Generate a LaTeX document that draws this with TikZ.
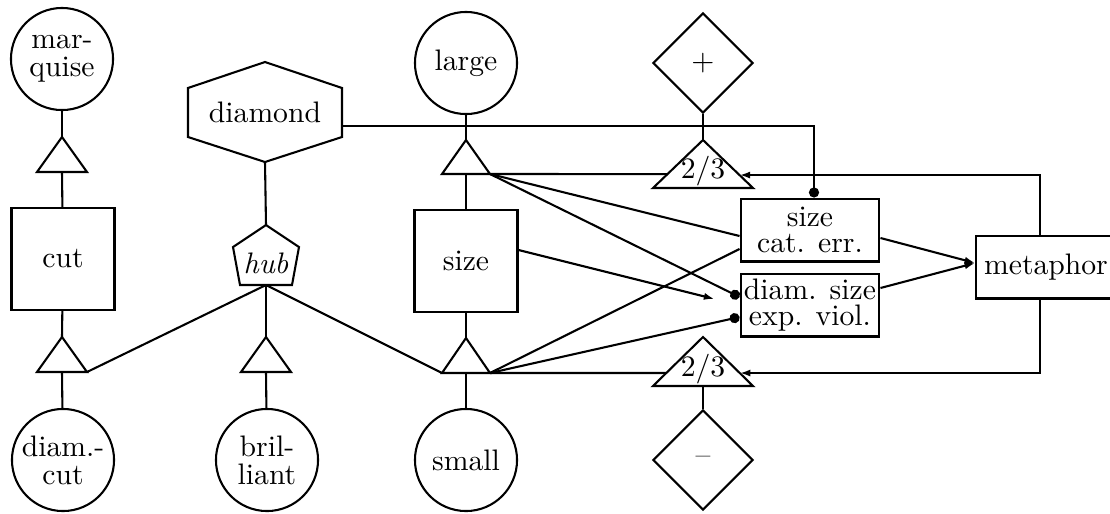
\documentclass[tikz,border=0pt]{standalone}
\usepackage{tikz}
\usetikzlibrary{shapes.geometric,arrows.meta,calc}

\tikzset{
 every node/.style={font=\fontsize{10}{9.5}\selectfont},
 cir/.style={circle,draw,minimum size=34.4pt,inner sep=0pt,align=center},
 box/.style={rectangle,draw,minimum width=34.7pt,minimum height=34.4pt},
 wbox/.style={rectangle,draw,minimum width=46.8pt,minimum height=21.2pt,inner sep=0.5pt,align=center,font=\fontsize{10}{8.6}\selectfont},
 rhomb/.style={diamond,draw,minimum size=33.7pt,inner sep=0pt},
 arr/.style={-{Latex[length=3.6pt,width=2.4pt]}},
 dotend/.style={-{Circle[length=3.4pt]}},
}

\begin{document}
\begin{tikzpicture}[x=0.337pt,y=-0.337pt,line width=0.7pt]
\useasboundingbox (0,0) rectangle (1110,513);
% left column
\node[cir] (mq) at (62,59) {mar-\\quise};
\draw (62,137) coordinate (ta) -- ++(25,35) coordinate (ta-r) -- ++(-25,0) coordinate (ta-b) -- ++(-25,0) coordinate (ta-l) -- cycle;
\node[box] (cut) at (63,259) {cut};
\draw (62,337) coordinate (tb) -- ++(25,35) coordinate (tb-r) -- ++(-25,0) coordinate (tb-b) -- ++(-25,0) coordinate (tb-l) -- cycle;
\node[cir] (dcut) at (63,460) {diam.-\\cut};
\draw (mq) -- (ta);
\draw (ta-b) -- (cut);
\draw (cut) -- (tb);
\draw (tb-b) -- (dcut);
% diamond and hub
\node (dia) at (265,112) {diamond};
\draw (265,62) -- (342,88) -- (342,137) -- (265,162) coordinate (dia-b) -- (188,137) -- (188,88) -- cycle;
\coordinate (dia-e) at (342,126);
\node (hub) at (266,263) {\textit{hub}};
\draw (266,225) coordinate (hub-t) -- (299,247) -- (292,285) -- (266,285) coordinate (hub-b) -- (240,285) -- (233,247) -- cycle;
\draw (266,337) coordinate (tc) -- ++(25,35) coordinate (tc-r) -- ++(-25,0) coordinate (tc-b) -- ++(-25,0) coordinate (tc-l) -- cycle;
\node[cir] (bril) at (267,460) {bril-\\liant};
\draw (dia-b) -- (hub-t);
\draw (hub-b) -- (tc);
\draw (tc-b) -- (bril);
% size column
\node[cir] (large) at (466,63) {large};
\draw (466,140) coordinate (td) -- ++(24,34) coordinate (td-r) -- ++(-24,0) coordinate (td-b) -- ++(-24,0) coordinate (td-l) -- cycle;
\node[box] (size) at (466,261) {size};
\draw (466,338) coordinate (te) -- ++(24,35) coordinate (te-r) -- ++(-24,0) coordinate (te-b) -- ++(-24,0) coordinate (te-l) -- cycle;
\node[cir] (small) at (466,460) {small};
\draw (large) -- (td);
\draw (td-b) -- (size);
\draw (size) -- (te);
\draw (te-b) -- (small);
\draw (hub-b) -- (tb-r);
\draw (hub-b) -- (te-l);
% plus / minus
\node[rhomb] (plus) at (703,63) {+};
\draw (703,140) coordinate (tf) -- ++(50,48) coordinate (tf-r) -- ++(-50,0) coordinate (tf-b) -- ++(-50,0) coordinate (tf-l) -- cycle;
\node (tf-t) at (703,171) {2/3};
\draw (703,337) coordinate (tg) -- ++(50,49) coordinate (tg-r) -- ++(-50,0) coordinate (tg-b) -- ++(-50,0) coordinate (tg-l) -- cycle;
\node (tg-t) at (703,369) {2/3};
\node[rhomb] (minus) at (703,460) {--};
\draw (plus) -- (tf);
\draw (tg-b) -- (minus);
\draw (td-r) -- ($(tf)!.71!(tf-l)$);
\draw (te-r) -- ($(tg)!.735!(tg-l)$);
% violations
\node[wbox] (sce) at (810,230) {size\\cat. err.};
\node[wbox] (dse) at (810,305) {diam. size\\exp. viol.};
\node[rectangle,draw,minimum width=47pt,minimum height=21.2pt,inner sep=1pt] (met) at (1046,267) {metaphor};
\draw[dotend] (dia-e) -| ($(sce.north)+(4,0)$);
\draw (td-r) -- ($(sce.west)+(0,6)$);
\draw (te-r) -- ($(sce.west)+(0,19)$);
\draw[dotend] (td-r) -- ($(dse.west)+(0,-8)$);
\draw[dotend] (te-r) -- ($(dse.west)+(0,12)$);
\draw[arr] ($(size.east)+(0,-11)$) -- ($(dse.west)+(-25,-6)$);
\draw[arr] ($(sce.east)+(0,8)$) -- ($(met.west)+(0,-4)$);
\draw[arr] ($(dse.east)+(0,-17)$) -- ($(met.west)+(0,-4)$);
\draw[arr] ($(met.north)+(-6,0)$) |- ($(tf)!.73!(tf-r)$);
\draw[arr] ($(met.south)+(-6,0)$) |- ($(tg)!.735!(tg-r)$);
\end{tikzpicture}
\end{document}
